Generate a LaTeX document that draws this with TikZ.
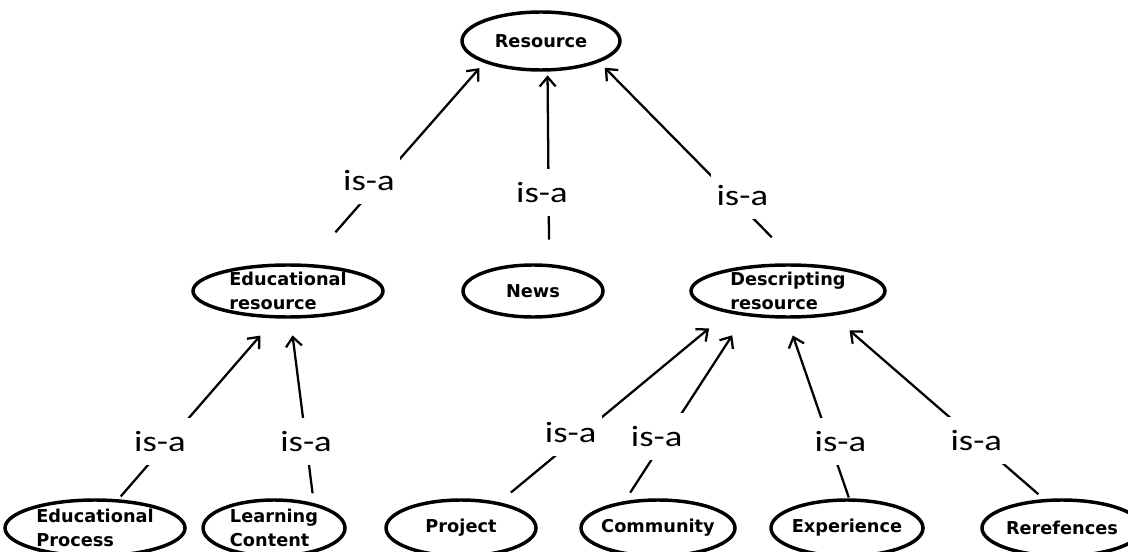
\documentclass[tikz,border=0pt]{standalone}
\usepackage{fontspec}
\setmainfont{DejaVu Sans}
\newfontfamily\isafont[FakeStretch=1.25]{Carlito}
\usetikzlibrary{arrows.meta,shapes.geometric}
\tikzset{
  ent/.style={draw,ellipse,line width=2.6pt,inner sep=0pt,minimum height=42pt},
  ttl/.style={font=\bfseries\fontsize{13.3}{18}\selectfont,align=left,inner sep=0pt},
  isa/.style={-{Straight Barb[length=7pt,width=12pt]},line width=1.7pt},
  lbl/.style={fill=white,inner xsep=4pt,inner ysep=10pt,font=\isafont\fontsize{22}{24}\selectfont}
}
\begin{document}
\begin{tikzpicture}[x=0.75pt,y=-0.75pt]
  \useasboundingbox (0,0) rectangle (1128,552);
  % top
  \node[ent,minimum width=118.5pt,minimum height=43.5pt,label={[ttl]center:Resource}] (res) at (541,41) {};
  % middle row
  \node[ent,minimum width=142.5pt,minimum height=39pt,label={[ttl]center:Educational\\resource}] (edres) at (288,291) {};
  \node[ent,minimum width=105pt,minimum height=39pt,label={[ttl]center:News}] (news) at (533,291) {};
  \node[ent,minimum width=145.5pt,minimum height=39pt,label={[ttl]center:Descripting\\resource}] (desres) at (788,291) {};
  % bottom row
  \node[ent,minimum width=135pt,label={[ttl]center:Educational\\Process}] (edproc) at (95,528) {};
  \node[ent,minimum width=106.5pt,label={[ttl]center:Learning\\Content}] (lc) at (274,528) {};
  \node[ent,minimum width=112.5pt,label={[ttl]center:Project}] (proj) at (461,528) {};
  \node[ent,minimum width=115.5pt,label={[ttl]center:Community}] (comm) at (658,528) {};
  \node[ent,minimum width=114pt,label={[ttl]center:Experience}] (exp) at (847,528) {};
  \node[ent,minimum width=120pt,label={[ttl]center:Rerefences}] (refs) at (1062,528) {};
  % is-a links
  \draw[isa,shorten <=31.5pt,shorten >=5.3pt] (edres.54.2) -- node[lbl,pos=.415,xshift=-9pt]{is-a} (res.-159.5);
  \draw[isa,shorten <=18.2pt,shorten >=2.8pt] (news.59.4) -- node[lbl,pos=.371,xshift=-5pt]{is-a} (res.-78.3);
  \draw[isa,shorten <=27.5pt,shorten >=5.8pt] (desres.71.6) -- node[lbl,pos=.339,xshift=9pt]{is-a} (res.-20.3);
  \draw[isa,shorten <=2.8pt,shorten >=17pt] (edproc.51.4) -- node[lbl,pos=.32,xshift=-6.4pt]{is-a} (edres.-115.5);
  \draw[isa,shorten <=7.4pt,shorten >=12.6pt] (lc.32.5) -- node[lbl,pos=.332]{is-a} (edres.-85.6);
  \draw[isa,shorten <=11.4pt,shorten >=18.1pt] (proj.34) -- node[lbl,pos=.368,xshift=-9.5pt]{is-a} (desres.-160.4);
  \draw[isa,shorten <=7.5pt,shorten >=17.3pt] (comm.141.6) -- node[lbl,pos=.348,xshift=-7.4pt]{is-a} (desres.-150.7);
  \draw[isa,shorten <=0.6pt,shorten >=13.3pt] (exp.86.5) -- node[lbl,pos=.317,xshift=8.3pt]{is-a} (desres.-92.4);
  \draw[isa,shorten <=5.5pt,shorten >=16.8pt] (refs.122.7) -- node[lbl,pos=.32]{is-a} (desres.-29.1);
\end{tikzpicture}
\end{document}
